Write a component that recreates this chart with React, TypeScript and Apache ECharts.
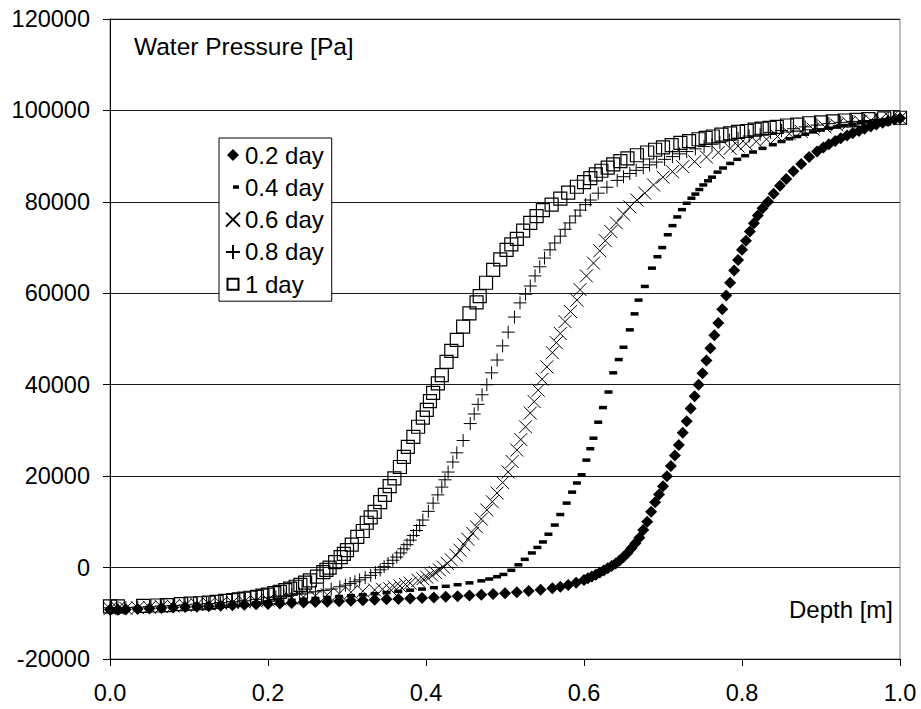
import React, { useEffect, useRef } from "react";
import * as echarts from "echarts";

const FONT = "'Liberation Sans', Arial, Helvetica, sans-serif";

const seriesNames = ["0.2 day", "0.4 day", "0.6 day", "0.8 day", "1 day"];

const day02: number[][] = [
  [0, -9200], [0.01, -9200], [0.02, -9150], [0.035, -9050], [0.05, -8950], [0.065, -8850],
  [0.08, -8750], [0.095, -8650], [0.11, -8550], [0.125, -8450], [0.14, -8350], [0.155, -8250],
  [0.17, -8150], [0.185, -8050], [0.2, -7950], [0.215, -7850], [0.23, -7750], [0.245, -7650],
  [0.26, -7550], [0.275, -7450], [0.29, -7350], [0.305, -7250], [0.32, -7150], [0.335, -7050],
  [0.35, -6950], [0.365, -6850], [0.38, -6750], [0.395, -6650], [0.41, -6550], [0.425, -6400],
  [0.44, -6250], [0.455, -6100], [0.47, -5950], [0.485, -5800], [0.5, -5600], [0.515, -5400],
  [0.53, -5150], [0.545, -4850], [0.56, -4500], [0.57, -4200], [0.58, -3800], [0.59, -3300],
  [0.6, -2700], [0.605, -2350], [0.61, -1950], [0.615, -1550], [0.62, -1100], [0.625, -650],
  [0.63, -150], [0.635, 350], [0.64, 900], [0.645, 1550], [0.65, 2300], [0.655, 3200],
  [0.66, 4200], [0.665, 5300], [0.67, 6500], [0.675, 8200], [0.68, 10000], [0.685, 12200],
  [0.69, 14300], [0.695, 16000], [0.7, 17800], [0.705, 20000], [0.71, 22200], [0.715, 24500],
  [0.72, 26800], [0.725, 29500], [0.73, 32000], [0.735, 34800], [0.74, 37500], [0.745, 40000],
  [0.75, 42500], [0.755, 45300], [0.76, 48000], [0.765, 50800], [0.77, 53500], [0.775, 56500],
  [0.78, 59500], [0.785, 62300], [0.79, 65000], [0.795, 67300], [0.8, 69500], [0.805, 71500],
  [0.81, 73500], [0.815, 75300], [0.82, 77000], [0.826, 78600], [0.833, 80000], [0.84, 81800],
  [0.848, 83500], [0.856, 85000], [0.865, 86700], [0.875, 88300], [0.885, 89800], [0.895, 91000],
  [0.903, 91900], [0.91, 92600], [0.918, 93300], [0.925, 93900], [0.933, 94500], [0.94, 95000],
  [0.948, 95500], [0.955, 96000], [0.963, 96500], [0.97, 96900], [0.978, 97300], [0.985, 97700],
  [0.993, 98000], [1.0, 98300],
];

const day04: number[][] = [
  [0, -9000], [0.01, -9000], [0.02, -8950], [0.035, -8900], [0.05, -8850], [0.065, -8750],
  [0.08, -8650], [0.095, -8550], [0.11, -8450], [0.125, -8300], [0.14, -8150], [0.155, -8000],
  [0.17, -7850], [0.185, -7700], [0.2, -7550], [0.215, -7350], [0.23, -7150], [0.245, -6950],
  [0.26, -6750], [0.275, -6550], [0.29, -6350], [0.305, -6150], [0.32, -5950], [0.335, -5700],
  [0.35, -5450], [0.365, -5200], [0.38, -4950], [0.395, -4700], [0.41, -4400], [0.425, -4100],
  [0.44, -3750], [0.455, -3350], [0.47, -2900], [0.48, -2500], [0.49, -2000], [0.498, -1500],
  [0.508, -600], [0.517, 600], [0.525, 1800], [0.534, 3200], [0.541, 4400], [0.548, 5600],
  [0.555, 7300], [0.563, 9300], [0.57, 11600], [0.578, 14100], [0.585, 16500], [0.591, 18500],
  [0.597, 20300], [0.603, 23500], [0.608, 26000], [0.612, 28300], [0.618, 31800], [0.624, 35000],
  [0.631, 38400], [0.637, 42600], [0.644, 45500], [0.65, 48200], [0.658, 52000], [0.664, 55500],
  [0.669, 58500], [0.677, 61500], [0.686, 65500], [0.693, 68000], [0.699, 70000], [0.706, 72800],
  [0.712, 74800], [0.718, 76700], [0.724, 78300], [0.73, 79700], [0.736, 80800], [0.741, 81700],
  [0.746, 82700], [0.751, 83700], [0.757, 84600], [0.762, 85400], [0.769, 86500], [0.776, 87400],
  [0.785, 88400], [0.794, 89300], [0.804, 90100], [0.814, 90900], [0.826, 91700], [0.839, 92500],
  [0.85, 93200], [0.86, 93800], [0.87, 94300], [0.88, 94800], [0.89, 95300], [0.9, 95700],
  [0.91, 96100], [0.92, 96400], [0.93, 96700], [0.94, 97000], [0.95, 97300], [0.96, 97500],
  [0.97, 97700], [0.98, 97900], [0.99, 98100], [1.0, 98200],
];

const day06: number[][] = [
  [0, -9000], [0.01, -8950], [0.02, -8900], [0.035, -8800], [0.05, -8700], [0.065, -8550],
  [0.08, -8400], [0.095, -8250], [0.11, -8100], [0.125, -7950], [0.14, -7800], [0.155, -7650],
  [0.17, -7500], [0.185, -7300], [0.2, -7100], [0.215, -6900], [0.23, -6700], [0.245, -6450],
  [0.26, -6200], [0.275, -5950], [0.29, -5700], [0.305, -5400], [0.32, -5150], [0.335, -4900],
  [0.345, -4750], [0.354, -4600], [0.36, -4300], [0.367, -4000], [0.374, -3700], [0.38, -3400],
  [0.39, -2800], [0.396, -2450], [0.401, -2100], [0.407, -1600], [0.412, -1100], [0.417, -500],
  [0.422, 100], [0.427, 900], [0.432, 1700], [0.438, 2700], [0.443, 3800], [0.448, 5000],
  [0.453, 6200], [0.459, 7500], [0.464, 8900], [0.47, 10600], [0.477, 12600], [0.484, 14400],
  [0.49, 16300], [0.497, 18600], [0.504, 20900], [0.509, 23200], [0.515, 25700], [0.52, 28000],
  [0.526, 30800], [0.532, 33800], [0.537, 36300], [0.542, 38800], [0.547, 41200], [0.553, 43900],
  [0.56, 47000], [0.565, 49200], [0.57, 51200], [0.576, 53800], [0.583, 56000], [0.591, 58500],
  [0.595, 60800], [0.603, 63800], [0.612, 66600], [0.62, 69300], [0.627, 71500], [0.634, 73500],
  [0.641, 75400], [0.65, 77300], [0.658, 78900], [0.667, 80400], [0.677, 81900], [0.688, 83700],
  [0.7, 85400], [0.712, 86600], [0.725, 87700], [0.74, 88800], [0.755, 89800], [0.77, 90800],
  [0.785, 91700], [0.795, 92200], [0.805, 92700], [0.818, 93200], [0.831, 93700], [0.845, 94300],
  [0.86, 94900], [0.875, 95400], [0.89, 95900], [0.905, 96400], [0.92, 96800], [0.935, 97200],
  [0.95, 97500], [0.963, 97800], [0.975, 98000], [0.988, 98200], [1.0, 98300],
];

const day08: number[][] = [
  [0, -8800], [0.01, -8800], [0.02, -8750], [0.035, -8650], [0.05, -8550], [0.065, -8400],
  [0.08, -8300], [0.095, -8150], [0.11, -8000], [0.125, -7850], [0.14, -7650], [0.155, -7450],
  [0.17, -7250], [0.185, -6950], [0.2, -6600], [0.21, -6400], [0.22, -6200], [0.23, -6000],
  [0.24, -5800], [0.25, -5550], [0.26, -5300], [0.27, -5000], [0.28, -4700], [0.291, -4200],
  [0.298, -3850], [0.304, -3500], [0.31, -3100], [0.316, -2700], [0.323, -2200], [0.33, -1700],
  [0.336, -1100], [0.342, -500], [0.347, 200], [0.352, 900], [0.358, 1600], [0.363, 2300],
  [0.368, 3200], [0.372, 4100], [0.376, 5000], [0.38, 6000], [0.384, 7000], [0.388, 8100],
  [0.392, 9200], [0.396, 10400], [0.403, 12300], [0.409, 14100], [0.415, 15900], [0.42, 17600],
  [0.424, 19200], [0.428, 20900], [0.434, 23100], [0.439, 25100], [0.447, 27800], [0.456, 31500],
  [0.461, 33600], [0.466, 35700], [0.471, 37800], [0.477, 40000], [0.483, 42600], [0.49, 45400],
  [0.497, 48500], [0.504, 51500], [0.512, 54800], [0.519, 57900], [0.526, 59800], [0.532, 61600],
  [0.538, 63800], [0.544, 65800], [0.55, 67700], [0.557, 69500], [0.563, 71000], [0.57, 72500],
  [0.576, 74000], [0.582, 75400], [0.589, 76900], [0.595, 78200], [0.602, 79400], [0.608, 80400],
  [0.618, 81900], [0.629, 83200], [0.642, 84700], [0.65, 85500], [0.658, 86200], [0.666, 86900],
  [0.675, 87500], [0.683, 88100], [0.692, 88700], [0.702, 89300], [0.712, 89900], [0.721, 90500],
  [0.73, 91000], [0.741, 91600], [0.752, 92100], [0.762, 92600], [0.772, 93000], [0.784, 93500],
  [0.795, 93900], [0.809, 94400], [0.823, 94800], [0.836, 95200], [0.85, 95600], [0.865, 96000],
  [0.88, 96400], [0.895, 96800], [0.91, 97100], [0.925, 97400], [0.94, 97600], [0.955, 97800],
  [0.97, 98000], [0.985, 98200], [1.0, 98300],
];

const day10: number[][] = [
  [0, -8500], [0.01, -8500], [0.042, -8400], [0.06, -8300], [0.072, -8200], [0.09, -8000],
  [0.102, -7900], [0.114, -7800], [0.125, -7650], [0.135, -7500], [0.146, -7300], [0.156, -7100],
  [0.163, -6950], [0.17, -6800], [0.178, -6600], [0.186, -6400], [0.193, -6150], [0.2, -5900],
  [0.208, -5600], [0.215, -5300], [0.222, -4950], [0.228, -4600], [0.235, -4200], [0.241, -3800],
  [0.247, -3300], [0.253, -2800], [0.262, -2000], [0.27, -1000], [0.274, -500], [0.278, 0],
  [0.285, 1200], [0.292, 2300], [0.296, 3000], [0.3, 3800], [0.306, 5000], [0.313, 6700],
  [0.32, 8000], [0.325, 9800], [0.33, 11000], [0.335, 12200], [0.342, 14300], [0.348, 15900],
  [0.354, 17800], [0.36, 19500], [0.367, 22000], [0.372, 24200], [0.377, 26400], [0.384, 28600],
  [0.39, 30800], [0.396, 32800], [0.401, 34500], [0.405, 36400], [0.409, 38200], [0.415, 40300],
  [0.42, 42100], [0.426, 45000], [0.432, 47400], [0.439, 49800], [0.447, 52700], [0.455, 55600],
  [0.464, 58000], [0.468, 59400], [0.476, 62300], [0.485, 65100], [0.494, 67400], [0.502, 69500],
  [0.508, 70700], [0.515, 71900], [0.523, 73700], [0.532, 75400], [0.54, 76900], [0.548, 78200],
  [0.559, 79400], [0.57, 80700], [0.58, 82000], [0.591, 83300], [0.6, 84300], [0.608, 85200],
  [0.615, 86000], [0.622, 86800], [0.63, 87500], [0.637, 88200], [0.646, 88900], [0.655, 89500],
  [0.667, 90200], [0.68, 90800], [0.69, 91400], [0.7, 91900], [0.711, 92400], [0.722, 92900],
  [0.733, 93300], [0.745, 93700], [0.754, 94000], [0.763, 94300], [0.774, 94700], [0.785, 95000],
  [0.795, 95300], [0.806, 95500], [0.816, 95800], [0.825, 96000], [0.835, 96200], [0.844, 96400],
  [0.857, 96700], [0.87, 96900], [0.885, 97200], [0.9, 97400], [0.915, 97600], [0.93, 97800],
  [0.945, 97950], [0.96, 98100], [0.98, 98250], [1.0, 98400],
];

const xTicks = { min: 0, max: 1, interval: 0.2 };
const yTicks = { min: -20000, max: 120000, interval: 20000 };
const yAxisTitle = "Water Pressure [Pa]";
const xAxisTitle = "Depth [m]";

const CROSS = "path://M0,0L10,10M10,0L0,10";
const PLUS = "path://M5,0L5,10M0,5L10,5";
const DASH = "path://M0,0L8,0L8,3.5L0,3.5Z";
const DASH_ICON = "path://M0,0L0,0M7,5L13,5L13,8.5L7,8.5ZM14,14L14,14";
const DIAMOND_ICON = "path://M0,0L0,0M7,1L13,7L7,13L1,7ZM14,14L14,14";
const SQUARE_ICON = "path://M0,0L0,0M1.5,1.5L12.5,1.5L12.5,12.5L1.5,12.5ZM14,14L14,14";

export default function App() {
  const ref = useRef<HTMLDivElement>(null);
  useEffect(() => {
    if (!ref.current) return;
    const chart = echarts.init(ref.current, null, { renderer: "svg" });
    const stroked = { color: "transparent", borderColor: "#000", borderWidth: 1, opacity: 1 };
    const option: any = {
      animation: false,
      backgroundColor: "#fff",
      textStyle: { fontFamily: FONT },
      grid: {
        left: 110, right: 21, top: 19, bottom: 50,
        show: true, borderColor: "#808080", borderWidth: 1, backgroundColor: "transparent",
      },
      legend: {
        orient: "vertical",
        left: 219, top: 138,
        padding: [5, 8, 5, 6],
        itemGap: 8.3,
        itemWidth: 14, itemHeight: 14,
        backgroundColor: "#fff",
        borderColor: "#000", borderWidth: 1,
        textStyle: { fontSize: 24, color: "#000", fontFamily: FONT },
        data: [
          { name: seriesNames[0], icon: DIAMOND_ICON },
          { name: seriesNames[1], icon: DASH_ICON },
          { name: seriesNames[2], icon: CROSS },
          { name: seriesNames[3], icon: PLUS },
          { name: seriesNames[4], icon: SQUARE_ICON },
        ],
        selectedMode: false,
        z: 10,
      },
      xAxis: {
        type: "value", ...xTicks,
        axisLine: { show: true, onZero: false, lineStyle: { color: "#000", width: 1 } },
        axisTick: { show: true, length: 7, lineStyle: { color: "#000" } },
        splitLine: { show: false },
        axisLabel: {
          formatter: (v: number) => v.toFixed(1),
          fontSize: 23.5, color: "#000", margin: 22, fontFamily: FONT,
        },
      },
      yAxis: {
        type: "value", ...yTicks,
        axisLine: { show: true, onZero: false, lineStyle: { color: "#000", width: 1 } },
        axisTick: { show: true, length: 7, lineStyle: { color: "#000" } },
        splitLine: { show: true, lineStyle: { color: "#1a1a1a", width: 1 } },
        axisLabel: {
          formatter: (v: number) => String(v),
          fontSize: 23.5, color: "#000", margin: 20, fontFamily: FONT,
        },
      },
      graphic: [
        {
          type: "text", left: 134, top: 34, z: 5,
          style: { text: yAxisTitle, fontSize: 24.5, fill: "#000", fontFamily: FONT },
        },
        {
          type: "text", right: 28, top: 597, z: 5,
          style: { text: xAxisTitle, fontSize: 24, fill: "#000", fontFamily: FONT },
        },
      ],
      series: [
        {
          name: seriesNames[0], type: "scatter", data: day02, symbol: "diamond", symbolSize: 12,
          itemStyle: { color: "#000", opacity: 1 }, silent: true, clip: false,
        },
        {
          name: seriesNames[1], type: "scatter", data: day04, symbol: DASH, symbolSize: [8, 3.5],
          itemStyle: { color: "#000", opacity: 1 }, silent: true, clip: false,
        },
        {
          name: seriesNames[2], type: "scatter", data: day06, symbol: CROSS, symbolSize: 13,
          itemStyle: stroked, silent: true, clip: false,
        },
        {
          name: seriesNames[3], type: "scatter", data: day08, symbol: PLUS, symbolSize: 13,
          itemStyle: stroked, silent: true, clip: false,
        },
        {
          name: seriesNames[4], type: "scatter", data: day10, symbol: "rect", symbolSize: 13,
          itemStyle: { color: "transparent", borderColor: "#000", borderWidth: 1.2, opacity: 1 },
          silent: true, clip: false,
        },
      ],
    };
    chart.setOption(option);
    return () => chart.dispose();
  }, []);
  return (
    <div
      ref={ref}
      style={{ position: "fixed", left: 0, top: 0, width: 921, height: 709, background: "#fff" }}
    />
  );
}
